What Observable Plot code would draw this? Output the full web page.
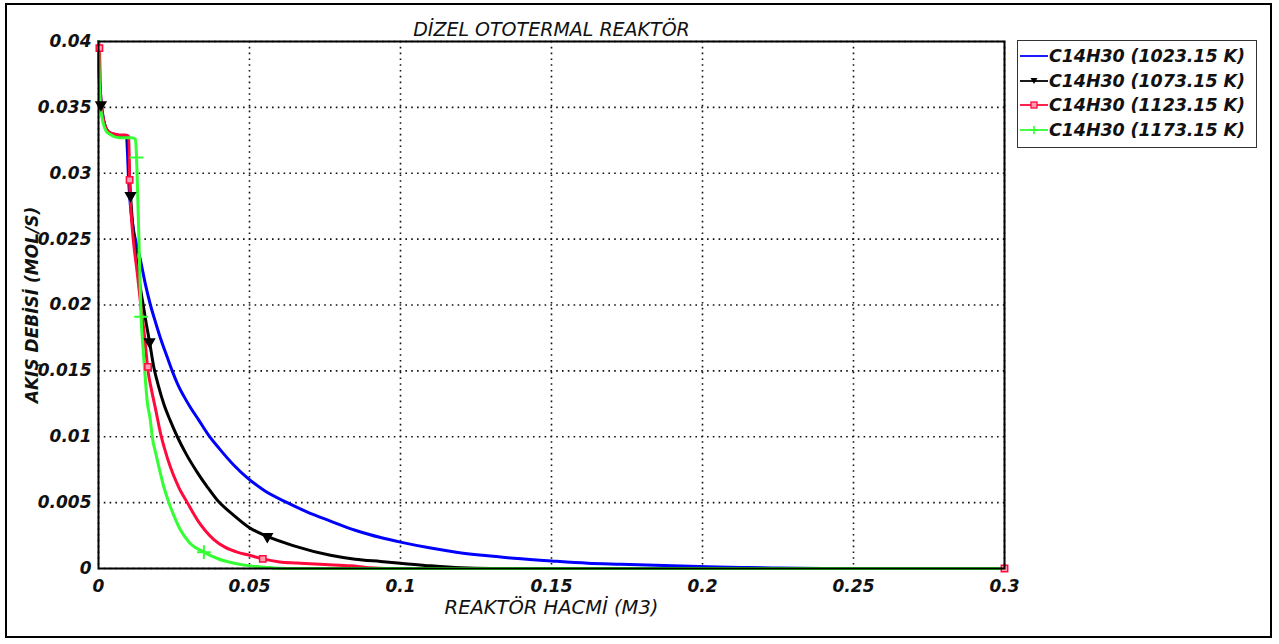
<!DOCTYPE html>
<html>
<head>
<meta charset="utf-8">
<script src="https://cdn.jsdelivr.net/npm/d3@7"></script>
<script src="https://cdn.jsdelivr.net/npm/@observablehq/plot@0.6"></script>
<style>
  html, body { margin: 0; padding: 0; background: #fff; }
  #wrap { position: relative; width: 1279px; height: 644px; overflow: hidden; background: #fff; }
  #border { position: absolute; left: 5px; top: 3px; width: 1267px; height: 635px; box-sizing: border-box; border: 2px solid #000; pointer-events: none; }
  #chart { position: absolute; left: 0; top: 0; }
  #legend { position: absolute; left: 1017px; top: 40px; width: 240px; height: 108px; box-sizing: border-box; border: 1.5px solid #333; background: #fff; padding-top: 3px; }
  .row { height: 24.5px; display: flex; align-items: center; font-family: "DejaVu Sans"; font-style: italic; font-weight: bold; font-size: 17.5px; color: #111; white-space: nowrap; letter-spacing: -0.1px; }
  .row svg { margin-left: 2px; margin-right: 1px; flex: none; }
</style>
</head>
<body>
<div id="wrap">
  <div id="chart"></div>
  <div id="legend"></div>
  <div id="border"></div>
</div>
<script>
// ---- texts ----
const titleText = "DİZEL OTOTERMAL REAKTÖR";
const xLabelText = "REAKTÖR HACMİ (M3)";
const yLabelText = "AKIŞ DEBİSİ (MOL/S)";
const seriesNames = ["C14H30 (1023.15 K)", "C14H30 (1073.15 K)", "C14H30 (1123.15 K)", "C14H30 (1173.15 K)"];
const seriesColors = ["#0000ff", "#000000", "#ff0a3c", "#33ff33"];

// ---- ticks ----
const xTicks = [0, 0.05, 0.1, 0.15, 0.2, 0.25, 0.3];
const yTicks = [0, 0.005, 0.01, 0.015, 0.02, 0.025, 0.03, 0.035, 0.04];

// ---- series: 1023.15 K (blue) ----
const xBlue = [0, 0.0003, 0.0006, 0.001, 0.0015, 0.002, 0.003, 0.0045, 0.006, 0.008, 0.0093, 0.0096, 0.0099, 0.0103, 0.0108, 0.0115, 0.0122, 0.0139, 0.0155, 0.0172, 0.019, 0.0205, 0.0225, 0.0244, 0.0262, 0.0282, 0.0305, 0.0331, 0.0365, 0.040, 0.045, 0.0492, 0.055, 0.0625, 0.069, 0.0768, 0.085, 0.0934, 0.1, 0.11, 0.119, 0.128, 0.1375, 0.15, 0.162, 0.173, 0.19, 0.205, 0.215, 0.225, 0.24, 0.3];
const yBlue = [0.0400, 0.0372, 0.0362, 0.0352, 0.0343, 0.0337, 0.0332, 0.0330, 0.0329, 0.0328, 0.0327, 0.0315, 0.0298, 0.0283, 0.0270, 0.0258, 0.0250, 0.0234, 0.0216, 0.0200, 0.0186, 0.0175, 0.0162, 0.0150, 0.0140, 0.0131, 0.0122, 0.0113, 0.0101, 0.0091, 0.0078, 0.0069, 0.0059, 0.0050, 0.0043, 0.0036, 0.0029, 0.00235, 0.0020, 0.00155, 0.00122, 0.00098, 0.00078, 0.00057, 0.0004, 0.00032, 0.0002, 0.00012, 0.00007, 0.00003, 0, 0];

// ---- series: 1073.15 K (black) ----
const xBlack = [0, 0.0003, 0.0008, 0.0012, 0.0018, 0.0025, 0.0035, 0.005, 0.007, 0.009, 0.0097, 0.0100, 0.0103, 0.0106, 0.0110, 0.0118, 0.0125, 0.0135, 0.0148, 0.0158, 0.0169, 0.0183, 0.0198, 0.0216, 0.0238, 0.0261, 0.029, 0.0327, 0.036, 0.0393, 0.045, 0.05, 0.0559, 0.065, 0.0768, 0.085, 0.0934, 0.1, 0.11, 0.12, 0.13, 0.3];
const yBlack = [0.0400, 0.0370, 0.0352, 0.0345, 0.0339, 0.0334, 0.0331, 0.0329, 0.0328, 0.0328, 0.0327, 0.0310, 0.0295, 0.0283, 0.0270, 0.0250, 0.0235, 0.0218, 0.0200, 0.0186, 0.0172, 0.0153, 0.0139, 0.0125, 0.0112, 0.0100, 0.0087, 0.0073, 0.0062, 0.0052, 0.0040, 0.0031, 0.00243, 0.0017, 0.0010, 0.0007, 0.00053, 0.0004, 0.0002, 0.00005, 0, 0];

// ---- series: 1123.15 K (red) ----
const xRed = [0, 0.0003, 0.0007, 0.0012, 0.0018, 0.0025, 0.0035, 0.005, 0.007, 0.009, 0.0100, 0.0103, 0.0108, 0.0115, 0.0128, 0.014, 0.0153, 0.0164, 0.0176, 0.0189, 0.0205, 0.022, 0.0238, 0.0265, 0.0294, 0.033, 0.0382, 0.042, 0.0459, 0.05, 0.0544, 0.06, 0.0658, 0.075, 0.0834, 0.09, 0.095, 0.3];
const yRed = [0.0400, 0.0395, 0.0360, 0.0347, 0.0339, 0.0334, 0.0331, 0.0330, 0.0329, 0.0329, 0.0328, 0.0295, 0.0270, 0.0250, 0.0225, 0.0200, 0.0175, 0.0150, 0.0135, 0.0121, 0.0103, 0.0090, 0.0077, 0.0062, 0.0050, 0.0036, 0.0022, 0.0016, 0.00124, 0.0010, 0.00073, 0.0005, 0.00042, 0.0003, 0.0002, 0.00005, 0, 0];

// ---- series: 1173.15 K (green) ----
const xGreen = [0, 0.0003, 0.0007, 0.0012, 0.0018, 0.0025, 0.0035, 0.005, 0.007, 0.009, 0.011, 0.0122, 0.0126, 0.0129, 0.0132, 0.0135, 0.0138, 0.0141, 0.0146, 0.0153, 0.0161, 0.0172, 0.0178, 0.019, 0.020, 0.0215, 0.0233, 0.025, 0.0272, 0.030, 0.0349, 0.040, 0.045, 0.05, 0.055, 0.062, 0.3];
const yGreen = [0.0400, 0.0368, 0.0350, 0.0342, 0.0336, 0.0332, 0.0330, 0.0328, 0.0327, 0.0327, 0.0327, 0.0326, 0.0312, 0.0290, 0.0265, 0.0240, 0.0215, 0.0191, 0.0172, 0.0150, 0.01275, 0.0112, 0.0100, 0.0087, 0.0077, 0.0063, 0.0050, 0.0040, 0.0029, 0.0020, 0.00124, 0.0007, 0.0004, 0.0002, 0.0001, 0, 0];

// ---- marker positions ----
const xBlackMarks = [0.0008, 0.0106, 0.0169, 0.0559];
const yBlackMarks = [0.0352, 0.0283, 0.0172, 0.00243];
const xRedMarks = [0.0003, 0.0103, 0.0164, 0.0544, 0.3];
const yRedMarks = [0.0395, 0.0295, 0.0153, 0.00073, 0];
const xGreenMarks = [0.0126, 0.0141, 0.0349];
const yGreenMarks = [0.0312, 0.0191, 0.00124];

const toRows = (xs, ys) => xs.map((x, i) => ({x, y: ys[i]}));
const blue = toRows(xBlue, yBlue);
const black = toRows(xBlack, yBlack);
const red = toRows(xRed, yRed);
const green = toRows(xGreen, yGreen);
const blackM = toRows(xBlackMarks, yBlackMarks);
const redM = toRows(xRedMarks, yRedMarks);
const greenM = toRows(xGreenMarks, yGreenMarks);

const fmt = d => d === 0 ? "0" : String(d);
const gridStyle = {stroke: "#111", strokeOpacity: 1, strokeWidth: 1.6, strokeDasharray: "1.6,4.2"};
const lineStyle = {x: "x", y: "y", strokeWidth: 3, curve: "monotone-x"};

const chart = Plot.plot({
  width: 1020,
  height: 644,
  marginLeft: 98,
  marginRight: 16,
  marginTop: 41,
  marginBottom: 76,
  x: {domain: [0, 0.3]},
  y: {domain: [0, 0.04]},
  style: {fontFamily: "DejaVu Sans", fontSize: "17px", fontStyle: "italic", fontWeight: "bold", color: "#111", background: "transparent"},
  marks: [
    Plot.gridX(xTicks, gridStyle),
    Plot.gridY(yTicks, gridStyle),
    Plot.axisX(xTicks, {tickSize: 0, tickPadding: 11, tickFormat: fmt, label: null, fontSize: 17}),
    Plot.axisY(yTicks, {tickSize: 0, tickPadding: 7, tickFormat: fmt, label: null, fontSize: 17}),
    Plot.line(blue, {...lineStyle, stroke: seriesColors[0]}),
    Plot.line(black, {...lineStyle, stroke: seriesColors[1]}),
    Plot.line(red, {...lineStyle, stroke: seriesColors[2]}),
    Plot.line(green, {...lineStyle, stroke: seriesColors[3]}),
    Plot.dot(blackM, {x: "x", y: "y", symbol: "triangle", rotate: 180, r: 3.6, fill: "#000", stroke: "#000"}),
    Plot.dot(redM, {x: "x", y: "y", symbol: "square", r: 3.6, fill: "#ff9fb4", stroke: seriesColors[2], strokeWidth: 1.5}),
    Plot.dot(greenM, {x: "x", y: "y", symbol: "plus", r: 4.5, stroke: seriesColors[3], strokeWidth: 2}),
    Plot.frame({stroke: "#000", strokeWidth: 2}),
    Plot.text([titleText], {frameAnchor: "top", dy: -19, fontSize: 19, fontWeight: "normal", fill: "#111"}),
    Plot.text([xLabelText], {frameAnchor: "bottom", dy: 45, fontSize: 19.5, fontWeight: "normal", fill: "#111"}),
    Plot.text([yLabelText], {frameAnchor: "left", textAnchor: "middle", dx: -66, rotate: -90, fontSize: 17, fontWeight: "bold", fill: "#111"})
  ]
});
document.getElementById("chart").appendChild(chart);

// ---- legend ----
const legend = document.getElementById("legend");
const markerSvg = [
  '',
  '<polygon points="10.5,4 17.5,4 14,10" fill="#000"/>',
  '<rect x="11" y="4" width="6" height="6" fill="#ff9fb4" stroke="' + seriesColors[2] + '" stroke-width="1.3"/>',
  '<path d="M14,3V11M10,7H18" stroke="' + seriesColors[3] + '" stroke-width="1.6"/>'
];
seriesNames.forEach((name, i) => {
  const row = document.createElement("div");
  row.className = "row";
  row.innerHTML = '<svg width="28" height="14"><line x1="0" y1="7" x2="28" y2="7" stroke="' + seriesColors[i] + '" stroke-width="1.8"/>' + markerSvg[i] + '</svg><span>' + name + '</span>';
  legend.appendChild(row);
});
</script>
</body>
</html>
